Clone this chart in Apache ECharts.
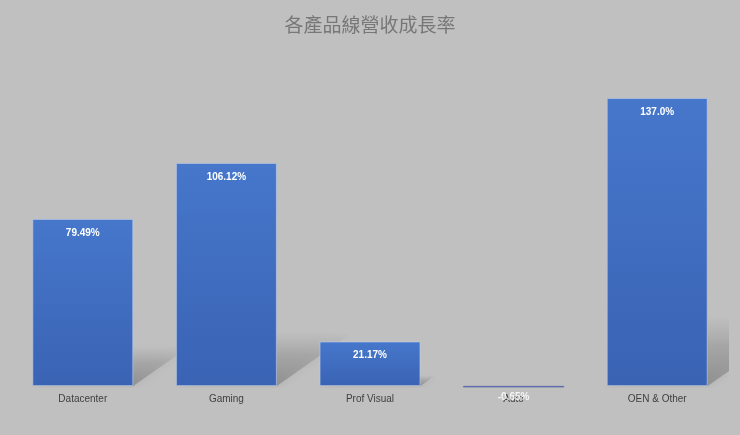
<!DOCTYPE html>
<html>
<head>
<meta charset="utf-8">
<script src="https://cdn.jsdelivr.net/npm/echarts@6/dist/echarts.min.js"></script>
<style>
html,body{margin:0;padding:0;background:#c0c0c0;}
#main{width:740px;height:435px;}
</style>
</head>
<body>
<div id="main"></div>
<script>
const categories = ['Datacenter', 'Gaming', 'Prof Visual', 'Auto', 'OEN & Other'];
const growth = [79.49, 106.12, 21.17, -0.65, 137.0];
const growthLabels = ['79.49%', '106.12%', '21.17%', '-0.65%', '137.0%'];
const titleText = '各產品線營收成長率';

const chart = echarts.init(document.getElementById('main'), null, {renderer: 'canvas'});

const BAR_RATIO = 0.703;

chart.setOption({
  backgroundColor: '#c0c0c0',
  animation: false,
  title: {
    text: titleText,
    left: 'center',
    top: 10,
    textStyle: {
      fontFamily: '"Noto Sans CJK TC", "Noto Sans CJK SC", sans-serif',
      fontSize: 19,
      fontWeight: 'normal',
      color: '#777777'
    }
  },
  grid: {left: 11, right: 11, top: 49.7, bottom: 46.9, containLabel: false},
  xAxis: {
    type: 'category',
    data: categories,
    axisLine: {show: false},
    axisTick: {show: false},
    axisLabel: {
      margin: 6,
      fontSize: 10,
      color: '#404040',
      fontFamily: '"Liberation Sans", Arial, sans-serif'
    }
  },
  yAxis: {
    type: 'value',
    min: -1,
    max: 160,
    show: false,
    splitLine: {show: false}
  },
  series: [
    {
      type: 'custom',
      clip: true,
      silent: true,
      z: 1,
      data: growth.map((v, i) => [i, v]),
      renderItem: function (params, api) {
        const i = api.value(0);
        const v = api.value(1);
        if (v <= 0) return null;
        const base = api.coord([i, 0]);
        const top = api.coord([i, v]);
        const band = api.size([1, 0])[0];
        const w = band * BAR_RATIO;
        const h = base[1] - top[1];
        const hs = h * 0.235;
        const dx = hs * 1.42;
        const x0 = base[0] - w / 2, x1 = base[0] + w / 2, y0 = base[1];
        return {
          type: 'polygon',
          shape: {points: [[x0, y0], [x1, y0], [x1 + dx, y0 - hs], [x0 + dx, y0 - hs]]},
          style: {
            fill: new echarts.graphic.LinearGradient(0, 1, 0, 0, [
              {offset: 0, color: 'rgba(105,105,105,0.5)'},
              {offset: 0.6, color: 'rgba(125,125,125,0.3)'},
              {offset: 1, color: 'rgba(160,160,160,0.05)'}
            ]),
            shadowBlur: 10,
            shadowColor: 'rgba(110,110,110,0.35)'
          }
        };
      }
    },
    {
      type: 'bar',
      z: 2,
      barWidth: (BAR_RATIO * 100) + '%',
      data: growth.map((v, i) => v < 0 ? ({
        value: v,
        itemStyle: {color: '#5566a8', borderColor: '#5566a8', borderWidth: 0.6},
        label: {position: 'bottom', distance: 5, color: 'rgba(255,255,255,0.85)'}
      }) : v),
      itemStyle: {
        color: new echarts.graphic.LinearGradient(0, 0, 0, 1, [
          {offset: 0, color: '#4677cb'},
          {offset: 1, color: '#3a63b4'}
        ]),
        borderColor: 'rgba(190,205,235,0.6)',
        borderWidth: 1
      },
      label: {
        show: true,
        position: 'insideTop',
        distance: 9,
        color: '#ffffff',
        fontWeight: 'bold',
        fontSize: 10,
        fontFamily: '"Liberation Sans", Arial, sans-serif',
        formatter: p => growthLabels[p.dataIndex]
      }
    }
  ]
});
</script>
</body>
</html>
